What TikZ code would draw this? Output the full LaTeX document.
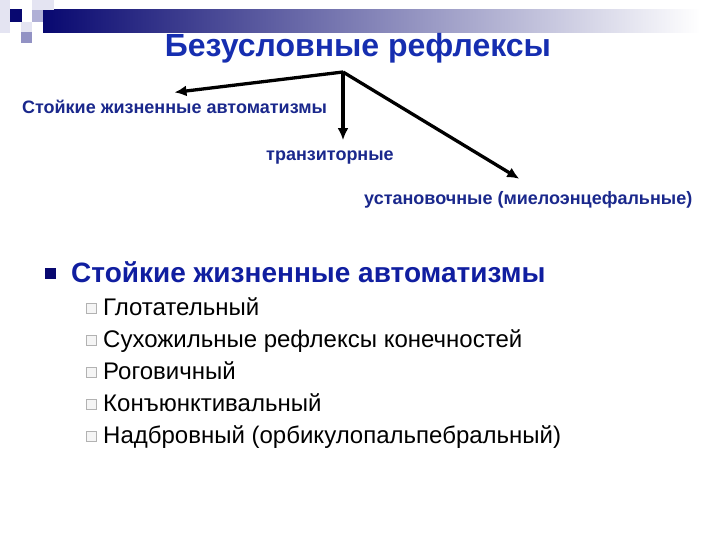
\documentclass[tikz,border=0pt]{standalone}
\usepackage{fontspec}
\setmainfont{Liberation Sans}
\usetikzlibrary{positioning,arrows.meta}
\definecolor{titleblue}{RGB}{22,46,176}
\definecolor{labelblue}{RGB}{26,40,140}
\definecolor{headblue}{RGB}{16,30,160}
\definecolor{navy}{RGB}{8,8,112}
\definecolor{pale}{RGB}{228,228,242}
\definecolor{lilac}{RGB}{176,176,214}
\definecolor{midlilac}{RGB}{146,146,196}
\tikzset{x=1pt, y=-1pt,
  branch/.style={font=\fontsize{18}{20}\selectfont\bfseries, text=labelblue, inner sep=0pt},
  item/.style={font=\fontsize{24}{28}\selectfont, inner sep=0pt, anchor=base west},
  box/.style={draw=gray!60, fill=gray!8, line width=0.6pt, minimum size=10pt, inner sep=0pt},
  link/.style={line width=3.3pt, -{Latex[length=12pt,width=11pt]}}}

\begin{document}
\begin{tikzpicture}

           \useasboundingbox[fill=white] (0,0) rectangle (720,540);

           % decoration
           \shade[left color=navy, right color=white] (43,10) rectangle (700,33);
           \fill[pale] (0,0) rectangle (10,33);
           \fill[pale] (32,0) rectangle (54,10);
           \fill[lilac] (32,10) rectangle (43,22);
           \fill[pale] (21,22) rectangle (32,32);
           \fill[midlilac] (21,32) rectangle (32,43);
           \fill[navy] (10,9) rectangle (22,22);

           \node (title) [anchor=base, font=\fontsize{32}{36}\selectfont\bfseries, text=titleblue, inner sep=0pt]
                 at (358,57) {Безусловные рефлексы};

           \coordinate (root) at (343,72);
           \node (stoik) [branch, anchor=base] at (174.5,114) {Стойкие жизненные автоматизмы};
           \node (tranz) [branch, anchor=base west] at (266,161) {транзиторные};
           \node (ustan) [branch, anchor=base west] at (364,205) {установочные (миелоэнцефальные)};

           \draw[link] (root) to ([yshift=8pt]stoik.north);
           \draw[link] (root) to ([yshift=11pt]root |- tranz.north);
           \draw[link] (root) to ([xshift=-9pt,yshift=13pt]ustan.north);

           \node (b0) [fill=navy, minimum size=11pt, inner sep=0pt] at (50.5,273.5) {};
           \node (head) [anchor=base west, inner sep=0pt, font=\fontsize{28}{32}\selectfont\bfseries, text=headblue]
                 at (71,282) {Стойкие жизненные автоматизмы};

           \node (i1) [item] at (103,315) {Глотательный};
           \node (i2) [item, below=32pt of i1.base west, anchor=base west] {Сухожильные рефлексы конечностей};
           \node (i3) [item, below=32pt of i2.base west, anchor=base west] {Роговичный};
           \node (i4) [item, below=32pt of i3.base west, anchor=base west] {Конъюнктивальный};
           \node (i5) [item, below=32pt of i4.base west, anchor=base west] {Надбровный (орбикулопальпебральный)};

           \node (b1) [box] at ([xshift=-12pt,yshift=7pt]i1.base west) {};
           \node (b2) [box] at ([xshift=-12pt,yshift=7pt]i2.base west) {};
           \node (b3) [box] at ([xshift=-12pt,yshift=7pt]i3.base west) {};
           \node (b4) [box] at ([xshift=-12pt,yshift=7pt]i4.base west) {};
           \node (b5) [box] at ([xshift=-12pt,yshift=7pt]i5.base west) {};

         \end{tikzpicture}
\end{document}
